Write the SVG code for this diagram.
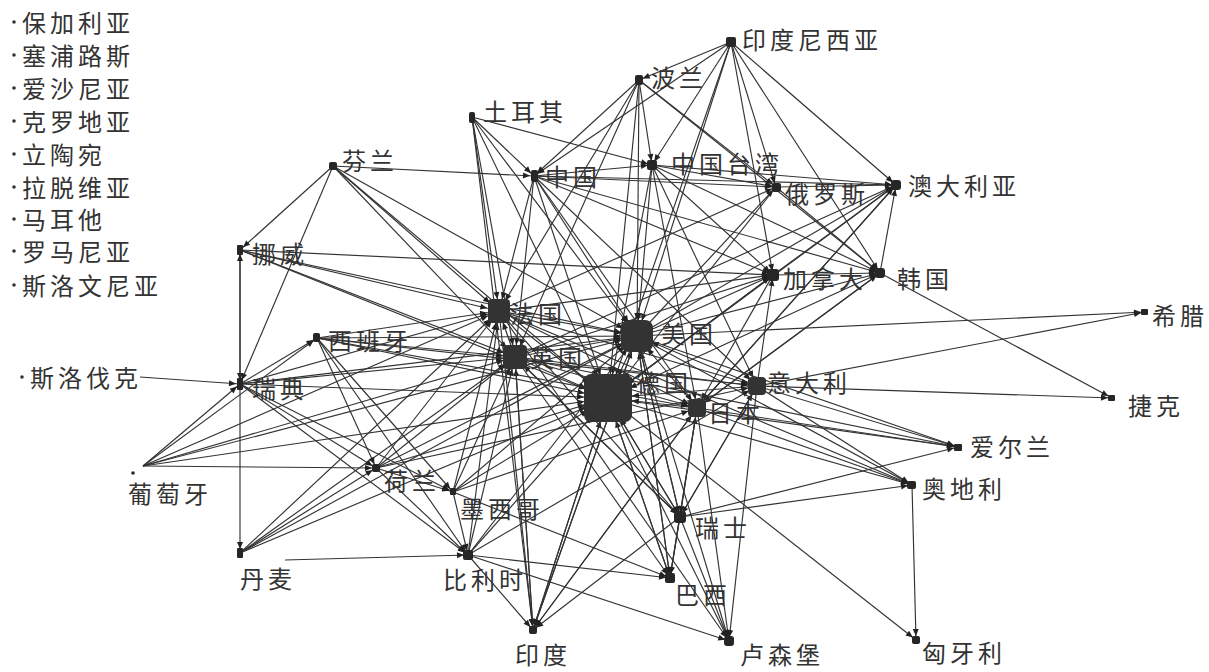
<svg xmlns="http://www.w3.org/2000/svg" width="1209" height="672" viewBox="0 0 1209 672">
<style>
  text{font-family:"Noto Sans CJK SC","Noto Sans CJK JP",sans-serif;font-size:24px;fill:#333;letter-spacing:4px}
  #edges line{stroke:#333;stroke-width:1.15;fill:none}
  .a4{marker-end:url(#m4)} .a9{marker-end:url(#m9)} .a12{marker-end:url(#m12)}
  .a17{marker-end:url(#m17)} .a25{marker-end:url(#m25)}
  .n{fill:#262626} .hub{fill:#333}
  .iso circle{fill:#333}
</style>
<defs>
  <marker id="m4" markerUnits="userSpaceOnUse" markerWidth="30" markerHeight="10" refX="11" refY="3" orient="auto" style="overflow:visible"><path d="M0,0L7,3L0,6z" fill="#222"/></marker>
  <marker id="m9" markerUnits="userSpaceOnUse" markerWidth="30" markerHeight="10" refX="16" refY="3" orient="auto" style="overflow:visible"><path d="M0,0L7,3L0,6z" fill="#222"/></marker>
  <marker id="m12" markerUnits="userSpaceOnUse" markerWidth="30" markerHeight="10" refX="19" refY="3" orient="auto" style="overflow:visible"><path d="M0,0L7,3L0,6z" fill="#222"/></marker>
  <marker id="m17" markerUnits="userSpaceOnUse" markerWidth="30" markerHeight="10" refX="23" refY="3" orient="auto" style="overflow:visible"><path d="M0,0L7,3L0,6z" fill="#222"/></marker>
  <marker id="m25" markerUnits="userSpaceOnUse" markerWidth="40" markerHeight="10" refX="31" refY="3" orient="auto" style="overflow:visible"><path d="M0,0L7,3L0,6z" fill="#222"/></marker>
</defs>
<rect width="1209" height="672" fill="#fff"/>

<g id="edges">
  <!-- into 德国 -->
  <line class="a25" x1="333" y1="166" x2="608" y2="398"/>
  <line class="a25" x1="240" y1="250" x2="608" y2="398"/>
  <line class="a25" x1="317" y1="338" x2="608" y2="398"/>
  <line class="a25" x1="240" y1="384" x2="608" y2="398"/>
  <line class="a25" x1="143" y1="466" x2="608" y2="398"/>
  <line class="a25" x1="240" y1="553" x2="608" y2="398"/>
  <line class="a25" x1="376" y1="468" x2="608" y2="398"/>
  <line class="a25" x1="453" y1="492" x2="608" y2="398"/>
  <line class="a25" x1="468" y1="555" x2="608" y2="398"/>
  <line class="a25" x1="533" y1="630" x2="608" y2="398"/>
  <line class="a25" x1="680" y1="517" x2="608" y2="398"/>
  <line class="a25" x1="670" y1="578" x2="608" y2="398"/>
  <line class="a25" x1="697" y1="408" x2="608" y2="398"/>
  <line class="a25" x1="757" y1="386" x2="608" y2="398"/>
  <line class="a25" x1="637" y1="336" x2="608" y2="398"/>
  <line class="a25" x1="515" y1="357" x2="608" y2="398"/>
  <line class="a25" x1="499" y1="311" x2="608" y2="398"/>
  <line class="a25" x1="534" y1="176" x2="608" y2="398"/>
  <line class="a25" x1="652" y1="165" x2="608" y2="398"/>
  <line class="a25" x1="472" y1="117" x2="608" y2="398"/>
  <line class="a25" x1="639" y1="80" x2="608" y2="398"/>
  <line class="a25" x1="776" y1="187" x2="608" y2="398"/>
  <line class="a25" x1="773" y1="275" x2="608" y2="398"/>
  <line class="a25" x1="880" y1="273" x2="608" y2="398"/>
  <line class="a25" x1="896" y1="185" x2="608" y2="398"/>
  <line class="a25" x1="731" y1="42" x2="608" y2="398"/>
  <!-- into 美国 -->
  <line class="a17" x1="333" y1="166" x2="637" y2="336"/>
  <line class="a17" x1="240" y1="250" x2="637" y2="336"/>
  <line class="a17" x1="317" y1="338" x2="637" y2="336"/>
  <line class="a17" x1="240" y1="384" x2="637" y2="336"/>
  <line class="a17" x1="143" y1="466" x2="637" y2="336"/>
  <line class="a17" x1="240" y1="553" x2="637" y2="336"/>
  <line class="a17" x1="376" y1="468" x2="637" y2="336"/>
  <line class="a17" x1="453" y1="492" x2="637" y2="336"/>
  <line class="a17" x1="468" y1="555" x2="637" y2="336"/>
  <line class="a17" x1="533" y1="630" x2="637" y2="336"/>
  <line class="a17" x1="680" y1="517" x2="637" y2="336"/>
  <line class="a17" x1="670" y1="578" x2="637" y2="336"/>
  <line class="a17" x1="697" y1="408" x2="637" y2="336"/>
  <line class="a17" x1="757" y1="386" x2="637" y2="336"/>
  <line class="a17" x1="515" y1="357" x2="637" y2="336"/>
  <line class="a17" x1="499" y1="311" x2="637" y2="336"/>
  <line class="a17" x1="534" y1="176" x2="637" y2="336"/>
  <line class="a17" x1="652" y1="165" x2="637" y2="336"/>
  <line class="a17" x1="472" y1="117" x2="637" y2="336"/>
  <line class="a17" x1="639" y1="80" x2="637" y2="336"/>
  <line class="a17" x1="731" y1="42" x2="637" y2="336"/>
  <!-- into 英国 -->
  <line class="a12" x1="333" y1="166" x2="515" y2="357"/>
  <line class="a12" x1="240" y1="250" x2="515" y2="357"/>
  <line class="a12" x1="317" y1="338" x2="515" y2="357"/>
  <line class="a12" x1="240" y1="384" x2="515" y2="357"/>
  <line class="a12" x1="143" y1="466" x2="515" y2="357"/>
  <line class="a12" x1="240" y1="553" x2="515" y2="357"/>
  <line class="a12" x1="376" y1="468" x2="515" y2="357"/>
  <line class="a12" x1="468" y1="555" x2="515" y2="357"/>
  <line class="a12" x1="472" y1="117" x2="515" y2="357"/>
  <line class="a12" x1="639" y1="80" x2="515" y2="357"/>
  <line class="a12" x1="534" y1="176" x2="515" y2="357"/>
  <line class="a12" x1="533" y1="630" x2="515" y2="357"/>
  <line class="a12" x1="680" y1="517" x2="515" y2="357"/>
  <line class="a12" x1="453" y1="492" x2="515" y2="357"/>
  <!-- into 法国 -->
  <line class="a12" x1="333" y1="166" x2="499" y2="311"/>
  <line class="a12" x1="240" y1="250" x2="499" y2="311"/>
  <line class="a12" x1="317" y1="338" x2="499" y2="311"/>
  <line class="a12" x1="240" y1="384" x2="499" y2="311"/>
  <line class="a12" x1="143" y1="466" x2="499" y2="311"/>
  <line class="a12" x1="240" y1="553" x2="499" y2="311"/>
  <line class="a12" x1="376" y1="468" x2="499" y2="311"/>
  <line class="a12" x1="468" y1="555" x2="499" y2="311"/>
  <line class="a12" x1="472" y1="117" x2="499" y2="311"/>
  <line class="a12" x1="639" y1="80" x2="499" y2="311"/>
  <line class="a12" x1="534" y1="176" x2="499" y2="311"/>
  <line class="a12" x1="515" y1="357" x2="499" y2="311"/>
  <line class="a12" x1="453" y1="492" x2="499" y2="311"/>
  <!-- into 日本 -->
  <line class="a9" x1="534" y1="176" x2="697" y2="408"/>
  <line class="a9" x1="652" y1="165" x2="697" y2="408"/>
  <line class="a9" x1="880" y1="273" x2="697" y2="408"/>
  <line class="a9" x1="896" y1="185" x2="697" y2="408"/>
  <line class="a9" x1="773" y1="275" x2="697" y2="408"/>
  <line class="a9" x1="499" y1="311" x2="697" y2="408"/>
  <line class="a9" x1="515" y1="357" x2="697" y2="408"/>
  <line class="a9" x1="453" y1="492" x2="697" y2="408"/>
  <line class="a9" x1="533" y1="630" x2="697" y2="408"/>
  <line class="a9" x1="670" y1="578" x2="697" y2="408"/>
  <line class="a9" x1="317" y1="338" x2="697" y2="408"/>
  <!-- into 意大利 -->
  <line class="a9" x1="317" y1="338" x2="757" y2="386"/>
  <line class="a9" x1="376" y1="468" x2="757" y2="386"/>
  <line class="a9" x1="468" y1="555" x2="757" y2="386"/>
  <line class="a9" x1="680" y1="517" x2="757" y2="386"/>
  <line class="a9" x1="652" y1="165" x2="757" y2="386"/>
  <line class="a9" x1="534" y1="176" x2="757" y2="386"/>
  <line class="a9" x1="515" y1="357" x2="757" y2="386"/>
  <line class="a9" x1="499" y1="311" x2="757" y2="386"/>
  <!-- into 加拿大 -->
  <line class="a4" x1="731" y1="42" x2="773" y2="275"/>
  <line class="a4" x1="652" y1="165" x2="773" y2="275"/>
  <line class="a4" x1="534" y1="176" x2="773" y2="275"/>
  <line class="a4" x1="240" y1="250" x2="773" y2="275"/>
  <line class="a4" x1="637" y1="336" x2="773" y2="275"/>
  <line class="a4" x1="608" y1="398" x2="773" y2="275"/>
  <line class="a4" x1="515" y1="357" x2="773" y2="275"/>
  <line class="a4" x1="499" y1="311" x2="773" y2="275"/>
  <line class="a4" x1="757" y1="386" x2="773" y2="275"/>
  <!-- into 韩国 -->
  <line class="a4" x1="731" y1="42" x2="880" y2="273"/>
  <line class="a4" x1="534" y1="176" x2="880" y2="273"/>
  <line class="a4" x1="652" y1="165" x2="880" y2="273"/>
  <line class="a4" x1="637" y1="336" x2="880" y2="273"/>
  <line class="a4" x1="697" y1="408" x2="880" y2="273"/>
  <line class="a4" x1="776" y1="187" x2="880" y2="273"/>
  <line class="a4" x1="773" y1="275" x2="880" y2="273"/>
  <line class="a4" x1="639" y1="80" x2="880" y2="273"/>
  <!-- into 澳大利亚 -->
  <line class="a4" x1="731" y1="42" x2="896" y2="185"/>
  <line class="a4" x1="534" y1="176" x2="896" y2="185"/>
  <line class="a4" x1="652" y1="165" x2="896" y2="185"/>
  <line class="a4" x1="776" y1="187" x2="896" y2="185"/>
  <line class="a4" x1="637" y1="336" x2="896" y2="185"/>
  <line class="a4" x1="515" y1="357" x2="896" y2="185"/>
  <line class="a4" x1="697" y1="408" x2="896" y2="185"/>
  <line class="a4" x1="773" y1="275" x2="896" y2="185"/>
  <line class="a4" x1="880" y1="273" x2="896" y2="185"/>
  <!-- into 俄罗斯 -->
  <line class="a4" x1="534" y1="176" x2="776" y2="187"/>
  <line class="a4" x1="652" y1="165" x2="776" y2="187"/>
  <line class="a4" x1="731" y1="42" x2="776" y2="187"/>
  <line class="a4" x1="637" y1="336" x2="776" y2="187"/>
  <line class="a4" x1="499" y1="311" x2="776" y2="187"/>
  <line class="a4" x1="639" y1="80" x2="776" y2="187"/>
  <!-- into 中国台湾 / 中国 / 波兰 -->
  <line class="a4" x1="639" y1="80" x2="652" y2="165"/>
  <line class="a4" x1="731" y1="42" x2="652" y2="165"/>
  <line class="a4" x1="534" y1="176" x2="652" y2="165"/>
  <line class="a4" x1="472" y1="117" x2="652" y2="165"/>
  <line class="a4" x1="333" y1="166" x2="534" y2="176"/>
  <line class="a4" x1="639" y1="80" x2="534" y2="176"/>
  <line class="a4" x1="731" y1="42" x2="534" y2="176"/>
  <line class="a4" x1="472" y1="117" x2="534" y2="176"/>
  <line class="a4" x1="731" y1="42" x2="639" y2="80"/>
  <!-- northern / western periphery -->
  <line class="a4" x1="140" y1="377" x2="240" y2="384"/>
  <line class="a4" x1="333" y1="166" x2="240" y2="384"/>
  <line class="a4" x1="240" y1="250" x2="240" y2="384"/>
  <line class="a4" x1="143" y1="466" x2="240" y2="384"/>
  <line class="a4" x1="240" y1="384" x2="240" y2="250"/>
  <line class="a4" x1="333" y1="166" x2="240" y2="250"/>
  <line class="a4" x1="240" y1="384" x2="240" y2="553"/>
  <line class="a4" x1="240" y1="384" x2="317" y2="338"/>
  <line class="a4" x1="143" y1="466" x2="317" y2="338"/>
  <line class="a4" x1="240" y1="553" x2="376" y2="468"/>
  <line class="a4" x1="240" y1="384" x2="376" y2="468"/>
  <line class="a4" x1="317" y1="338" x2="376" y2="468"/>
  <line class="a4" x1="143" y1="466" x2="376" y2="468"/>
  <line class="a4" x1="285" y1="560" x2="468" y2="555"/>
  <line class="a4" x1="376" y1="468" x2="468" y2="555"/>
  <line class="a4" x1="240" y1="384" x2="468" y2="555"/>
  <line class="a4" x1="317" y1="338" x2="468" y2="555"/>
  <line class="a4" x1="453" y1="492" x2="468" y2="555"/>
  <line class="a4" x1="317" y1="338" x2="453" y2="492"/>
  <line class="a4" x1="376" y1="468" x2="453" y2="492"/>
  <line class="a4" x1="240" y1="384" x2="453" y2="492"/>
  <!-- into 巴西 -->
  <line class="a4" x1="453" y1="492" x2="670" y2="578"/>
  <line class="a4" x1="637" y1="336" x2="670" y2="578"/>
  <line class="a4" x1="608" y1="398" x2="670" y2="578"/>
  <line class="a4" x1="697" y1="408" x2="670" y2="578"/>
  <line class="a4" x1="680" y1="517" x2="670" y2="578"/>
  <line class="a4" x1="515" y1="357" x2="670" y2="578"/>
  <line class="a4" x1="468" y1="555" x2="670" y2="578"/>
  <!-- into 印度 -->
  <line class="a4" x1="468" y1="555" x2="533" y2="630"/>
  <line class="a4" x1="472" y1="117" x2="533" y2="630"/>
  <line class="a4" x1="515" y1="357" x2="533" y2="630"/>
  <line class="a4" x1="608" y1="398" x2="533" y2="630"/>
  <line class="a4" x1="637" y1="336" x2="533" y2="630"/>
  <line class="a4" x1="697" y1="408" x2="533" y2="630"/>
  <line class="a4" x1="680" y1="517" x2="533" y2="630"/>
  <line class="a4" x1="499" y1="311" x2="533" y2="630"/>
  <!-- into 卢森堡 -->
  <line class="a4" x1="468" y1="555" x2="729" y2="641"/>
  <line class="a4" x1="608" y1="398" x2="729" y2="641"/>
  <line class="a4" x1="637" y1="336" x2="729" y2="641"/>
  <line class="a4" x1="680" y1="517" x2="729" y2="641"/>
  <line class="a4" x1="499" y1="311" x2="729" y2="641"/>
  <line class="a4" x1="697" y1="408" x2="729" y2="641"/>
  <line class="a4" x1="757" y1="386" x2="729" y2="641"/>
  <!-- into 瑞士 -->
  <line class="a4" x1="608" y1="398" x2="680" y2="517"/>
  <line class="a4" x1="637" y1="336" x2="680" y2="517"/>
  <line class="a4" x1="515" y1="357" x2="680" y2="517"/>
  <line class="a4" x1="499" y1="311" x2="680" y2="517"/>
  <line class="a4" x1="697" y1="408" x2="680" y2="517"/>
  <line class="a4" x1="757" y1="386" x2="680" y2="517"/>
  <!-- eastern periphery -->
  <line class="a4" x1="912" y1="485" x2="916" y2="640"/>
  <line class="a4" x1="608" y1="398" x2="916" y2="640"/>
  <line class="a4" x1="757" y1="386" x2="1112" y2="398"/>
  <line class="a4" x1="880" y1="273" x2="1112" y2="398"/>
  <line class="a4" x1="637" y1="336" x2="1145" y2="312"/>
  <line class="a4" x1="757" y1="386" x2="1145" y2="312"/>
  <line class="a4" x1="757" y1="386" x2="958" y2="447"/>
  <line class="a4" x1="637" y1="336" x2="958" y2="447"/>
  <line class="a4" x1="608" y1="398" x2="958" y2="447"/>
  <line class="a4" x1="697" y1="408" x2="958" y2="447"/>
  <line class="a4" x1="515" y1="357" x2="958" y2="447"/>
  <line class="a4" x1="680" y1="517" x2="958" y2="447"/>
  <line class="a4" x1="757" y1="386" x2="912" y2="485"/>
  <line class="a4" x1="637" y1="336" x2="912" y2="485"/>
  <line class="a4" x1="608" y1="398" x2="912" y2="485"/>
  <line class="a4" x1="697" y1="408" x2="912" y2="485"/>
  <line class="a4" x1="680" y1="517" x2="912" y2="485"/>
  <line class="a4" x1="499" y1="311" x2="912" y2="485"/>
</g>

<!-- isolated countries -->
<g id="isolated" class="iso">
  <circle cx="14" cy="22" r="1.8"/><text x="22" y="32">保加利亚</text>
  <circle cx="14" cy="55" r="1.8"/><text x="22" y="65">塞浦路斯</text>
  <circle cx="14" cy="88" r="1.8"/><text x="22" y="98">爱沙尼亚</text>
  <circle cx="14" cy="121" r="1.8"/><text x="22" y="131">克罗地亚</text>
  <circle cx="14" cy="154" r="1.8"/><text x="22" y="164">立陶宛</text>
  <circle cx="14" cy="187" r="1.8"/><text x="22" y="197">拉脱维亚</text>
  <circle cx="14" cy="219" r="1.8"/><text x="22" y="229">马耳他</text>
  <circle cx="14" cy="251" r="1.8"/><text x="22" y="261">罗马尼亚</text>
  <circle cx="14" cy="285" r="1.8"/><text x="22" y="295">斯洛文尼亚</text>
</g>

<g id="n-slovakia"><circle cx="22" cy="377" r="1.8" fill="#333"/><text x="30" y="387">斯洛伐克</text></g>
<g id="n-indonesia"><rect class="n" x="726" y="37" width="10" height="10" rx="2"/><text x="742" y="49">印度尼西亚</text></g>
<g id="n-poland"><rect class="n" x="635" y="75" width="8" height="10" rx="2"/><text x="651" y="87">波兰</text></g>
<g id="n-turkey"><rect class="n" x="469" y="112" width="6" height="11" rx="2"/><text x="483" y="121">土耳其</text></g>
<g id="n-finland"><rect class="n" x="329" y="162" width="8" height="8" rx="2"/><text x="342" y="170">芬兰</text></g>
<g id="n-taiwan"><rect class="n" x="647" y="160" width="10" height="10" rx="2"/><text x="671" y="173">中国台湾</text></g>
<g id="n-china"><rect class="n" x="531" y="170" width="7" height="12" rx="2"/><text x="545" y="186">中国</text></g>
<g id="n-russia"><rect class="n" x="772" y="183" width="9" height="9" rx="2"/><text x="785" y="203">俄罗斯</text></g>
<g id="n-australia"><rect class="n" x="891" y="180" width="10" height="10" rx="3"/><text x="908" y="195">澳大利亚</text></g>
<g id="n-norway"><rect class="n" x="237" y="245" width="6" height="10" rx="1"/><text x="252" y="263">挪威</text></g>
<g id="n-canada"><rect class="n" x="767" y="269" width="12" height="12" rx="3"/><text x="783" y="288">加拿大</text></g>
<g id="n-korea"><rect class="n" x="875" y="268" width="10" height="10" rx="3"/><text x="897" y="288">韩国</text></g>
<g id="n-greece"><rect class="n" x="1141" y="309" width="7" height="6" rx="1"/><text x="1152" y="325">希腊</text></g>
<g id="n-france"><rect class="hub" x="488" y="299" width="22" height="24" rx="4"/><text x="510" y="323">法国</text></g>
<g id="n-usa"><rect class="hub" x="621" y="320" width="32" height="32" rx="8"/><text x="661" y="343">美国</text></g>
<g id="n-spain"><rect class="n" x="313" y="333" width="7" height="9" rx="2"/><text x="328" y="350">西班牙</text></g>
<g id="n-uk"><rect class="hub" x="503" y="345" width="24" height="24" rx="4"/><text x="530" y="367">英国</text></g>
<g id="n-sweden"><rect class="n" x="237" y="378" width="6" height="12" rx="1"/><text x="252" y="398">瑞典</text></g>
<g id="n-germany"><rect class="hub" x="584" y="374" width="48" height="48" rx="7"/><text x="636" y="392">德国</text></g>
<g id="n-italy"><rect class="hub" x="748" y="377" width="18" height="18" rx="4"/><text x="767" y="392">意大利</text></g>
<g id="n-japan"><rect class="hub" x="688" y="399" width="18" height="18" rx="4"/><text x="708" y="422">日本</text></g>
<g id="n-czech"><rect class="n" x="1108" y="395" width="7" height="6" rx="1"/><text x="1128" y="415">捷克</text></g>
<g id="n-ireland"><rect class="n" x="954" y="444" width="8" height="7" rx="1"/><text x="970" y="456">爱尔兰</text></g>
<g id="n-austria"><rect class="n" x="907" y="481" width="9" height="8" rx="2"/><text x="922" y="498">奥地利</text></g>
<g id="n-portugal"><circle class="n" cx="133" cy="473" r="1.8"/><text x="128" y="503">葡萄牙</text></g>
<g id="n-netherlands"><rect class="n" x="372" y="464" width="8" height="8" rx="2"/><text x="384" y="490">荷兰</text></g>
<g id="n-mexico"><rect class="n" x="450" y="488" width="6" height="7" rx="1"/><text x="460" y="518">墨西哥</text></g>
<g id="n-switzerland"><rect class="n" x="674" y="511" width="12" height="12" rx="3"/><text x="695" y="537">瑞士</text></g>
<g id="n-denmark"><rect class="n" x="237" y="548" width="6" height="10" rx="1"/><text x="240" y="588">丹麦</text></g>
<g id="n-belgium"><rect class="n" x="463" y="550" width="10" height="10" rx="2"/><text x="443" y="589">比利时</text></g>
<g id="n-brazil"><rect class="n" x="665" y="573" width="10" height="10" rx="2"/><text x="675" y="604">巴西</text></g>
<g id="n-india"><rect class="n" x="529" y="626" width="8" height="8" rx="2"/><text x="515" y="664">印度</text></g>
<g id="n-luxembourg"><rect class="n" x="724" y="636" width="10" height="10" rx="3"/><text x="740" y="664">卢森堡</text></g>
<g id="n-hungary"><rect class="n" x="912" y="636" width="8" height="8" rx="2"/><text x="922" y="662">匈牙利</text></g>
</svg>
